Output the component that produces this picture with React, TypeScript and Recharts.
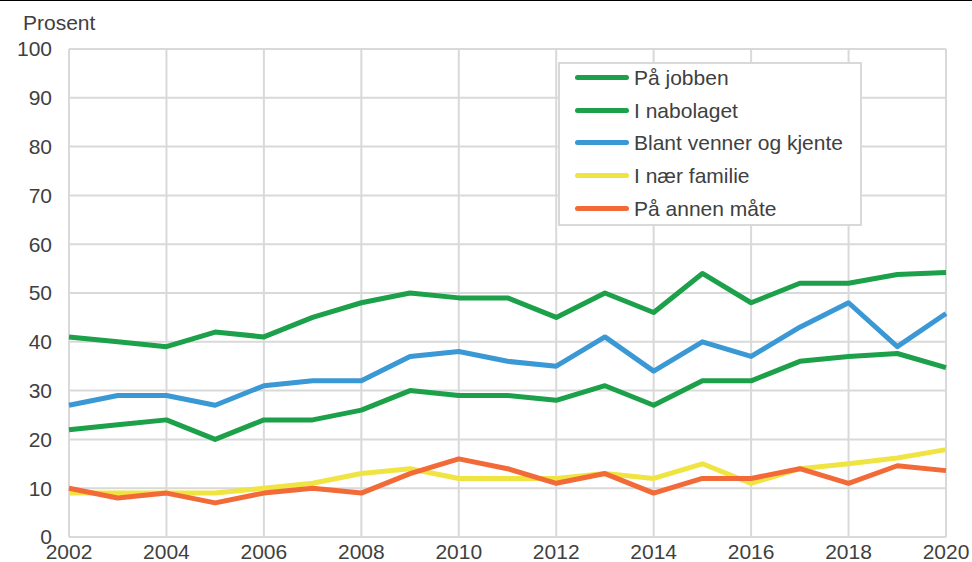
import { LineChart, Line, XAxis, YAxis, CartesianGrid } from 'recharts';

const years = [2002, 2003, 2004, 2005, 2006, 2007, 2008, 2009, 2010, 2011, 2012, 2013, 2014, 2015, 2016, 2017, 2018, 2019, 2020];

const paJobben = [41, 40, 39, 42, 41, 45, 48, 50, 49, 49, 45, 50, 46, 54, 48, 52, 52, 53.8, 54.2];
const iNabolaget = [22, 23, 24, 20, 24, 24, 26, 30, 29, 29, 28, 31, 27, 32, 32, 36, 37, 37.6, 34.7];
const blantVenner = [27, 29, 29, 27, 31, 32, 32, 37, 38, 36, 35, 41, 34, 40, 37, 43, 48, 39, 45.8];
const iNaerFamilie = [9, 9, 9, 9, 10, 11, 13, 14, 12, 12, 12, 13, 12, 15, 11, 14, 15, 16.2, 17.9];
const paAnnenMate = [10, 8, 9, 7, 9, 10, 9, 13, 16, 14, 11, 13, 9, 12, 12, 14, 11, 14.6, 13.6];

const yTicks = [0, 10, 20, 30, 40, 50, 60, 70, 80, 90, 100];
const xTicks = [2002, 2004, 2006, 2008, 2010, 2012, 2014, 2016, 2018, 2020];

const SERIES = [
  { key: 'jobben', name: 'På jobben', color: '#1ca049' },
  { key: 'nabolaget', name: 'I nabolaget', color: '#1ca049' },
  { key: 'venner', name: 'Blant venner og kjente', color: '#3a98d5' },
  { key: 'familie', name: 'I nær familie', color: '#f0e442' },
  { key: 'annen', name: 'På annen måte', color: '#f26a37' },
];

const data = years.map((year, i) => ({
  year,
  jobben: paJobben[i],
  nabolaget: iNabolaget[i],
  venner: blantVenner[i],
  familie: iNaerFamilie[i],
  annen: paAnnenMate[i],
}));

const FONT = 'Liberation Sans, Arial, sans-serif';
const TEXT = '#404040';

// legend drawn as plain html on top of the plot
function LegendBox() {
  return (
    <div
      style={{
        position: 'absolute',
        left: 558,
        top: 62,
        width: 304,
        height: 164,
        border: '2px solid #d9d9d9',
        background: '#fff',
        boxSizing: 'border-box',
        fontFamily: FONT,
        fontSize: 21,
        color: TEXT,
      }}
    >
      <div style={{ marginTop: -3 }}>
        {SERIES.map((s) => (
          <div key={s.key} style={{ display: 'flex', alignItems: 'center', height: 32.8, marginLeft: 15 }}>
            <div style={{ width: 54, height: 5, borderRadius: 3, background: s.color, marginRight: 5 }} />
            <span style={{ whiteSpace: 'nowrap', lineHeight: '21px' }}>{s.name}</span>
          </div>
        ))}
      </div>
    </div>
  );
}

export default function App() {
  return (
    <div style={{ position: 'absolute', left: 0, top: 0, width: 972, height: 562, background: '#fff' }}>
      <div style={{ position: 'absolute', left: 0, top: 0, width: 972, height: 1, background: '#000' }} />
      <div
        style={{
          position: 'absolute',
          left: 23,
          top: 12,
          fontFamily: FONT,
          fontSize: 21,
          color: TEXT,
          lineHeight: '21px',
        }}
      >
        Prosent
      </div>
      <LineChart width={972} height={562} data={data} margin={{ top: 49, right: 26, bottom: 0, left: 0 }}>
        <CartesianGrid stroke="#d9d9d9" strokeWidth={2} vertical={true} horizontal={true} />
        <XAxis
          dataKey="year"
          type="number"
          domain={[2002, 2020]}
          ticks={xTicks}
          height={25}
          allowDecimals={false}
          axisLine={false}
          tickLine={false}
          tickSize={0}
          tickMargin={5}
          interval={0}
          tick={{ fill: TEXT, fontSize: 21, fontFamily: FONT, dy: 2 }}
        />
        <YAxis
          type="number"
          domain={[0, 100]}
          ticks={yTicks}
          width={69}
          axisLine={false}
          tickLine={false}
          tickSize={0}
          tickMargin={17}
          interval={0}
          tick={{ fill: TEXT, fontSize: 21, fontFamily: FONT }}
        />
        {SERIES.map((s) => (
          <Line
            key={s.key}
            dataKey={s.key}
            name={s.name}
            stroke={s.color}
            strokeWidth={5}
            dot={false}
            activeDot={false}
            type="linear"
            strokeLinejoin="round"
            isAnimationActive={false}
          />
        ))}
      </LineChart>
      <LegendBox />
    </div>
  );
}
